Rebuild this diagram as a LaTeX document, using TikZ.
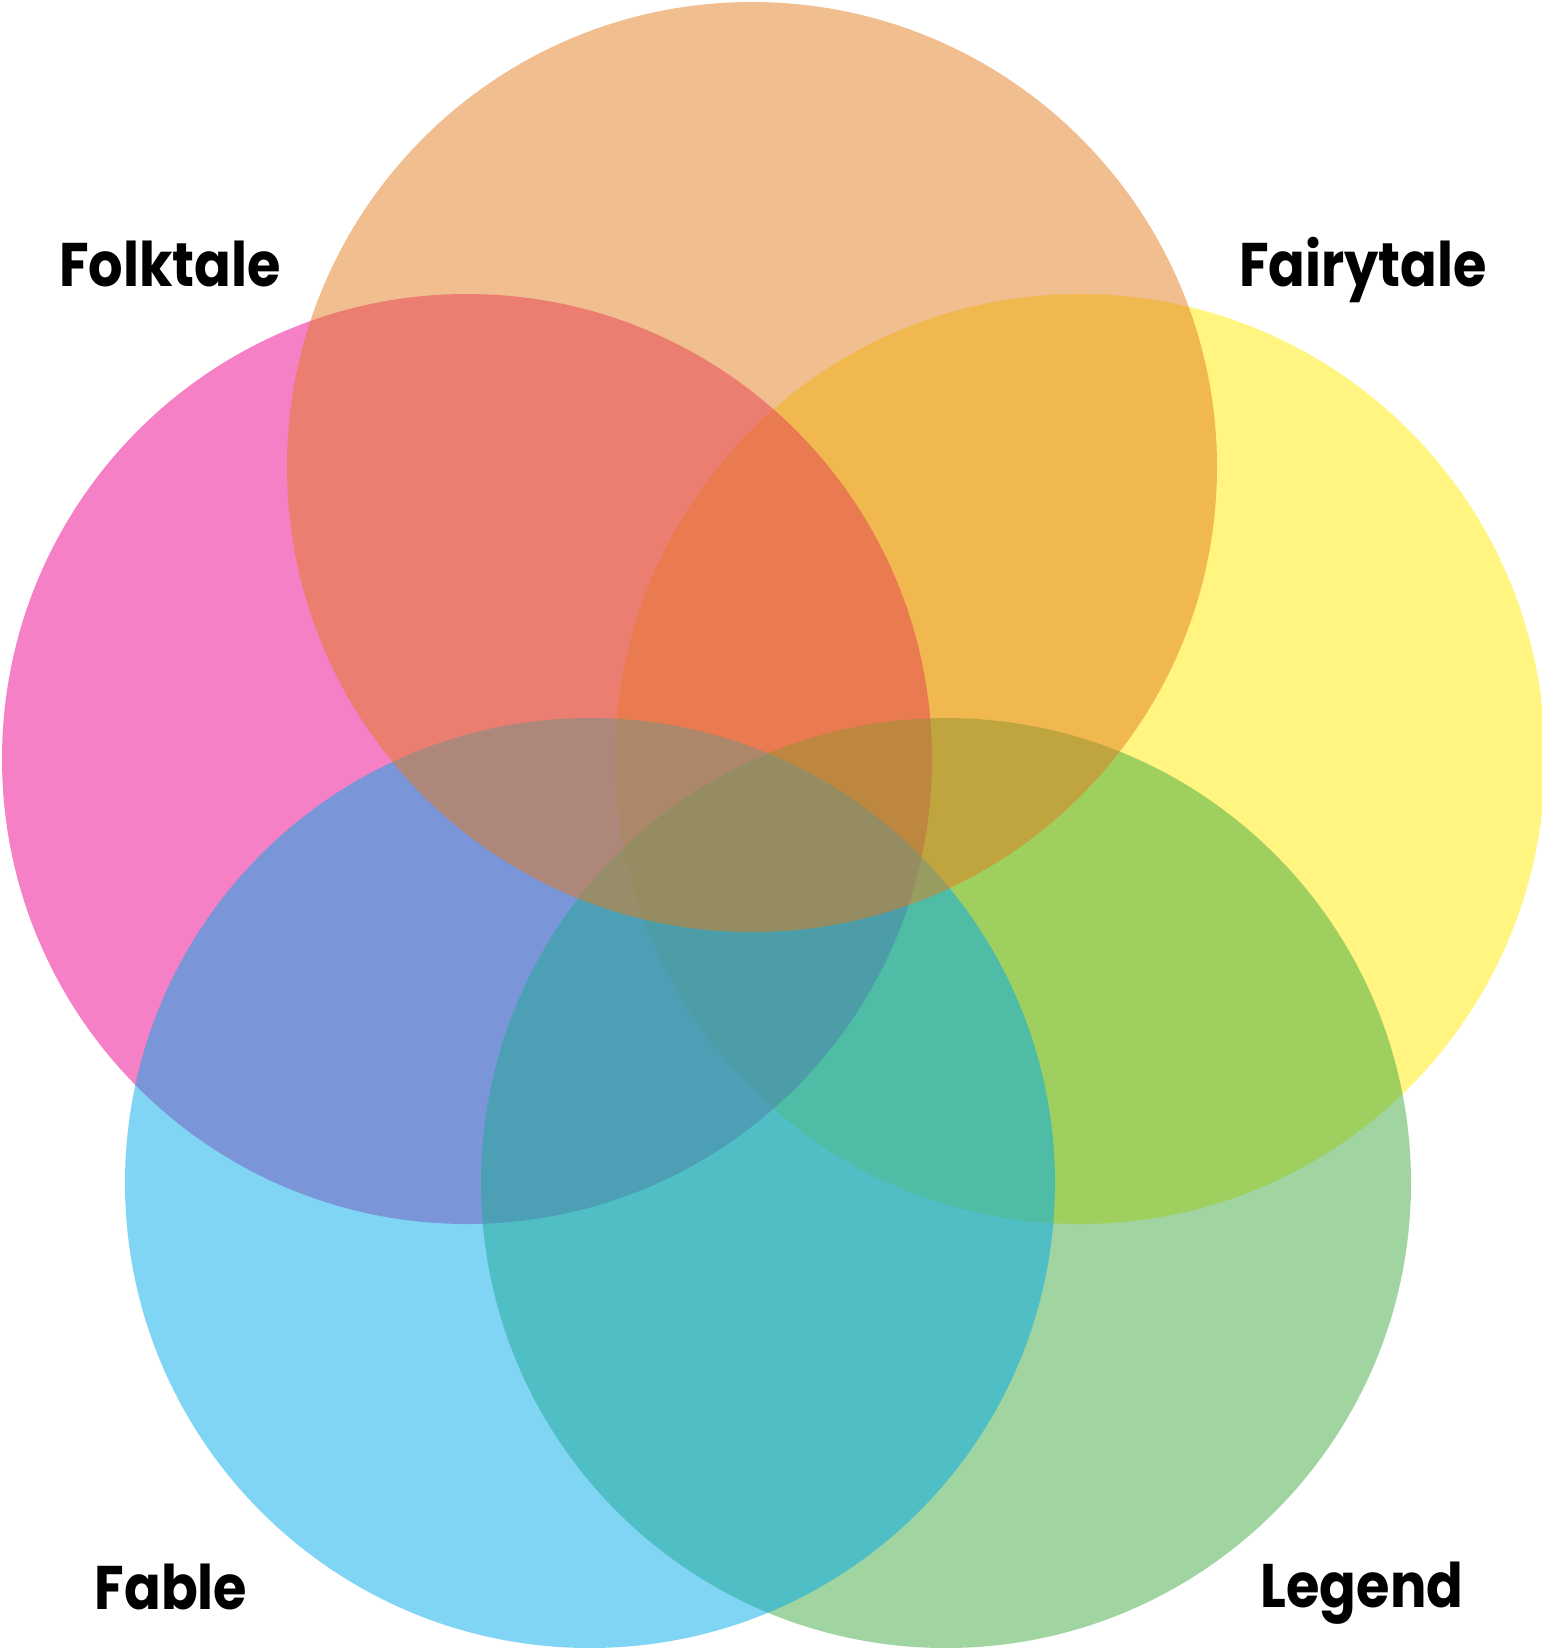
\documentclass[tikz,border=0pt]{standalone}
\usepackage{fontspec}
\newfontfamily\tagfont{Poppins}[FakeStretch=0.88]
\definecolor{yellowb}{RGB}{255,235,1}
\definecolor{pinkb}{RGB}{235,1,139}
\definecolor{greenb}{RGB}{65,169,65}
\definecolor{blueb}{RGB}{1,171,235}
\definecolor{orangeb}{RGB}{225,125,31}
\begin{document}
\begin{tikzpicture}[x=0.01cm,y=-0.01cm,
  set/.style={fill opacity=0.5},
  tag/.style={anchor=base, inner sep=0pt, font=\tagfont\bfseries\fontsize{17.5}{20}\selectfont}]
\useasboundingbox (0,0) rectangle (1541,1648);

% the five sets, back to front
\fill[set, yellowb] (1080,759) circle[radius=465];
\fill[set, pinkb] (467,759) circle[radius=465];
\fill[set, greenb] (946,1183) circle[radius=465];
\fill[set, blueb] (590,1183) circle[radius=465];
\fill[set, orangeb] (752,467) circle[radius=465];

% labels
\node[tag] (folk) at (170,286) {Folktale};
\node[tag] (fairy) at (1363,286) {Fairytale};
\node[tag] (fable) at (171,1609) {Fable};
\node[tag] (legend) at (1362,1607) {Legend};
\end{tikzpicture}
\end{document}
